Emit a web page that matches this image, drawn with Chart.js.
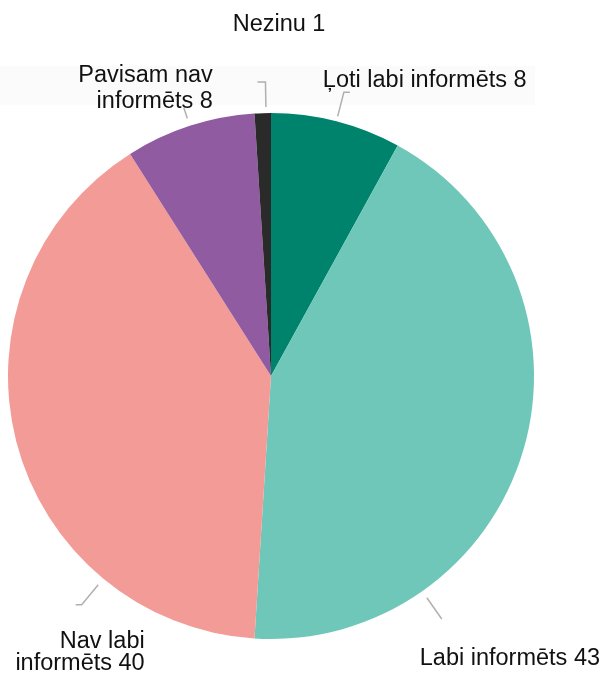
<!DOCTYPE html>
<html>
<head>
<meta charset="utf-8">
<script src="https://cdn.jsdelivr.net/npm/chart.js@4/dist/chart.umd.min.js"></script>
<style>
  html, body { margin: 0; padding: 0; background: #ffffff; }
  #wrap { width: 604px; height: 679px; position: relative; }
</style>
</head>
<body>
<div id="wrap"><canvas id="c" width="604" height="679"></canvas></div>
<script>
// ---- data ----
const categories = ["Ļoti labi informēts", "Labi informēts", "Nav labi informēts", "Pavisam nav informēts", "Nezinu"];
const values = [8, 43, 40, 8, 1];
const labelLines = [
  ["Ļoti labi informēts 8"],
  ["Labi informēts 43"],
  ["Nav labi", "informēts 40"],
  ["Pavisam nav", "informēts 8"],
  ["Nezinu 1"]
];
const colors = ["#00836D", "#6EC7B8", "#F39B96", "#915BA1", "#2A2A2A"];

// ---- label layout (style / placement, not data) ----
const labelLayout = [
  { frac: 0.5,  r0: 5, r1: 30, elbow: 6,  dx: -27, dy: -5,  align: "left",   lh: 26 },
  { frac: 0.75, r0: 8, r1: 34, elbow: 0,  dx: -22, dy: 46,  align: "left",   lh: 26 },
  { frac: 0.25, r0: 8, r1: 34, elbow: -6, dx: 69,  dy: 43,  align: "right",  lh: 22 },
  { frac: 0.5,  r0: 8, r1: 19, elbow: 0,  dx: 29,  dy: -26, align: "right",  lh: 26.5 },
  { frac: 0.7,  r0: 6, r1: 31, elbow: -8, dx: 21.6, dy: -51, align: "center", lh: 26 }
];

const bandPlugin = {
  id: "band",
  beforeDraw(chart) {
    const ctx = chart.ctx;
    ctx.save();
    ctx.fillStyle = "#fbfbfb";
    ctx.fillRect(0, 66, 535, 39);
    ctx.restore();
  }
};

const labelPlugin = {
  id: "pieLabels",
  afterDatasetsDraw(chart) {
    const ctx = chart.ctx;
    const meta = chart.getDatasetMeta(0);
    ctx.save();
    meta.data.forEach((arc, i) => {
      const L = labelLayout[i];
      const p = arc.getProps(["x", "y", "startAngle", "endAngle", "outerRadius"], true);
      const a = p.startAngle + L.frac * (p.endAngle - p.startAngle);
      const r = p.outerRadius;
      const x0 = p.x + Math.cos(a) * (r + L.r0), y0 = p.y + Math.sin(a) * (r + L.r0);
      const x1 = p.x + Math.cos(a) * (r + L.r1), y1 = p.y + Math.sin(a) * (r + L.r1);
      const x2 = x1 + L.elbow, y2 = y1;
      ctx.strokeStyle = "#b0b0b0";
      ctx.lineWidth = 1.5;
      ctx.beginPath();
      ctx.moveTo(x0, y0);
      ctx.lineTo(x1, y1);
      if (L.elbow) ctx.lineTo(x2, y2);
      ctx.stroke();
      ctx.fillStyle = "#111111";
      ctx.font = "23.5px 'Liberation Sans', Arial, sans-serif";
      ctx.textAlign = L.align;
      ctx.textBaseline = "alphabetic";
      labelLines[i].forEach((t, k) => {
        ctx.fillText(t, x2 + L.dx, y2 + L.dy + k * L.lh);
      });
    });
    ctx.restore();
  }
};

new Chart(document.getElementById("c"), {
  type: "pie",
  data: {
    labels: categories,
    datasets: [{
      data: values,
      backgroundColor: colors,
      borderWidth: 0
    }]
  },
  options: {
    responsive: false,
    animation: false,
    layout: { padding: { left: 8, right: 70, top: 113, bottom: 40 } },
    plugins: {
      legend: { display: false },
      tooltip: { enabled: false }
    }
  },
  plugins: [bandPlugin, labelPlugin]
});
</script>
</body>
</html>
